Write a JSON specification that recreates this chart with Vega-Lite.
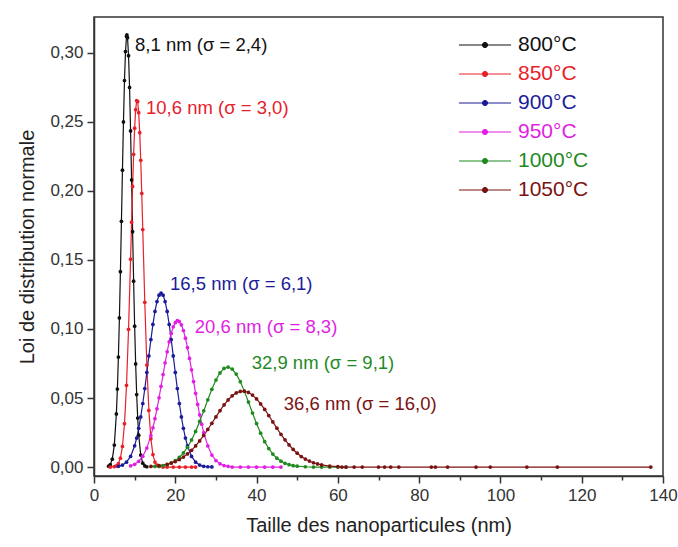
{
"$schema": "https://vega.github.io/schema/vega-lite/v6.json",
"width": 569, "height": 459,
"autosize": {"type": "none"},
"padding": {"left": 94, "top": 17, "right": 15, "bottom": 71},
"background": "white",
"config": {"view": {"stroke": "#333333", "strokeWidth": 1.5}, "font": "Liberation Sans"},
"datasets": {
"curves": [
{"T":"800°C","x":3.6,"y":0.0006},{"T":"800°C","x":4.0,"y":0.0017},{"T":"800°C","x":4.5,"y":0.0057},{"T":"800°C","x":5.0,"y":0.0159},{"T":"800°C","x":5.5,"y":0.0385},{"T":"800°C","x":5.75,"y":0.0565},{"T":"800°C","x":6.0,"y":0.0797},{"T":"800°C","x":6.25,"y":0.108},{"T":"800°C","x":6.5,"y":0.1415},{"T":"800°C","x":6.75,"y":0.178},{"T":"800°C","x":7.0,"y":0.215},{"T":"800°C","x":7.25,"y":0.25},{"T":"800°C","x":7.5,"y":0.28},{"T":"800°C","x":7.75,"y":0.301},{"T":"800°C","x":8.0,"y":0.312},{"T":"800°C","x":8.1,"y":0.313},{"T":"800°C","x":8.25,"y":0.311},{"T":"800°C","x":8.5,"y":0.298},{"T":"800°C","x":8.75,"y":0.275},{"T":"800°C","x":9.0,"y":0.2435},{"T":"800°C","x":9.25,"y":0.208},{"T":"800°C","x":9.5,"y":0.1705},{"T":"800°C","x":9.75,"y":0.1346},{"T":"800°C","x":10.0,"y":0.102},{"T":"800°C","x":10.25,"y":0.0747},{"T":"800°C","x":10.5,"y":0.0525},{"T":"800°C","x":10.75,"y":0.0355},{"T":"800°C","x":11.0,"y":0.0231},{"T":"800°C","x":11.5,"y":0.0087},{"T":"800°C","x":12.0,"y":0.0028},{"T":"800°C","x":12.5,"y":0.0008},{"T":"800°C","x":13.0,"y":0.0002},
{"T":"850°C","x":4.0,"y":0.0},{"T":"850°C","x":5.0,"y":0.0003},{"T":"850°C","x":5.5,"y":0.0008},{"T":"850°C","x":6.0,"y":0.0024},{"T":"850°C","x":6.5,"y":0.0064},{"T":"850°C","x":7.0,"y":0.0149},{"T":"850°C","x":7.5,"y":0.0314},{"T":"850°C","x":8.0,"y":0.0592},{"T":"850°C","x":8.5,"y":0.0998},{"T":"850°C","x":9.0,"y":0.1506},{"T":"850°C","x":9.25,"y":0.1774},{"T":"850°C","x":9.5,"y":0.2033},{"T":"850°C","x":9.75,"y":0.2265},{"T":"850°C","x":10.0,"y":0.2455},{"T":"850°C","x":10.25,"y":0.2589},{"T":"850°C","x":10.5,"y":0.2654},{"T":"850°C","x":10.75,"y":0.2647},{"T":"850°C","x":11.0,"y":0.2567},{"T":"850°C","x":11.25,"y":0.2422},{"T":"850°C","x":11.5,"y":0.2222},{"T":"850°C","x":11.75,"y":0.1982},{"T":"850°C","x":12.0,"y":0.172},{"T":"850°C","x":12.5,"y":0.1193},{"T":"850°C","x":13.0,"y":0.0739},{"T":"850°C","x":13.5,"y":0.041},{"T":"850°C","x":14.0,"y":0.0204},{"T":"850°C","x":14.5,"y":0.009},{"T":"850°C","x":15.0,"y":0.0036},{"T":"850°C","x":15.5,"y":0.0013},{"T":"850°C","x":16.0,"y":0.0004},{"T":"850°C","x":17.0,"y":0.0},{"T":"850°C","x":18.0,"y":0.0},{"T":"850°C","x":19.5,"y":0.0},{"T":"850°C","x":21.0,"y":0.0},{"T":"850°C","x":22.5,"y":0.0},{"T":"850°C","x":24.0,"y":0.0},{"T":"850°C","x":25.0,"y":0.0},
{"T":"900°C","x":6.0,"y":0.0005},{"T":"900°C","x":7.0,"y":0.0014},{"T":"900°C","x":8.0,"y":0.0035},{"T":"900°C","x":9.0,"y":0.0077},{"T":"900°C","x":10.0,"y":0.0154},{"T":"900°C","x":10.5,"y":0.021},{"T":"900°C","x":11.0,"y":0.028},{"T":"900°C","x":11.5,"y":0.0363},{"T":"900°C","x":12.0,"y":0.046},{"T":"900°C","x":12.5,"y":0.0568},{"T":"900°C","x":13.0,"y":0.0685},{"T":"900°C","x":13.5,"y":0.0805},{"T":"900°C","x":14.0,"y":0.0923},{"T":"900°C","x":14.5,"y":0.1033},{"T":"900°C","x":15.0,"y":0.1127},{"T":"900°C","x":15.5,"y":0.1199},{"T":"900°C","x":16.0,"y":0.1245},{"T":"900°C","x":16.5,"y":0.126},{"T":"900°C","x":17.0,"y":0.1245},{"T":"900°C","x":17.5,"y":0.1199},{"T":"900°C","x":18.0,"y":0.1127},{"T":"900°C","x":18.5,"y":0.1033},{"T":"900°C","x":19.0,"y":0.0923},{"T":"900°C","x":19.5,"y":0.0805},{"T":"900°C","x":20.0,"y":0.0685},{"T":"900°C","x":20.5,"y":0.0568},{"T":"900°C","x":21.0,"y":0.046},{"T":"900°C","x":21.5,"y":0.0363},{"T":"900°C","x":22.0,"y":0.028},{"T":"900°C","x":22.5,"y":0.021},{"T":"900°C","x":23.0,"y":0.0154},{"T":"900°C","x":24.0,"y":0.0077},{"T":"900°C","x":25.0,"y":0.0035},{"T":"900°C","x":26.0,"y":0.0014},{"T":"900°C","x":27.0,"y":0.0005},{"T":"900°C","x":28.0,"y":0.0002},{"T":"900°C","x":29.0,"y":0.0001},
{"T":"950°C","x":9.0,"y":0.0009},{"T":"950°C","x":10.0,"y":0.002},{"T":"950°C","x":11.0,"y":0.0041},{"T":"950°C","x":12.0,"y":0.0078},{"T":"950°C","x":13.0,"y":0.0137},{"T":"950°C","x":14.0,"y":0.0227},{"T":"950°C","x":14.5,"y":0.0284},{"T":"950°C","x":15.0,"y":0.035},{"T":"950°C","x":15.5,"y":0.0422},{"T":"950°C","x":16.0,"y":0.0501},{"T":"950°C","x":16.5,"y":0.0585},{"T":"950°C","x":17.0,"y":0.067},{"T":"950°C","x":17.5,"y":0.0755},{"T":"950°C","x":18.0,"y":0.0835},{"T":"950°C","x":18.5,"y":0.0907},{"T":"950°C","x":19.0,"y":0.0968},{"T":"950°C","x":19.5,"y":0.1016},{"T":"950°C","x":20.0,"y":0.1046},{"T":"950°C","x":20.5,"y":0.106},{"T":"950°C","x":21.0,"y":0.1054},{"T":"950°C","x":21.5,"y":0.103},{"T":"950°C","x":22.0,"y":0.0989},{"T":"950°C","x":22.5,"y":0.0933},{"T":"950°C","x":23.0,"y":0.0865},{"T":"950°C","x":23.5,"y":0.0787},{"T":"950°C","x":24.0,"y":0.0704},{"T":"950°C","x":24.5,"y":0.0619},{"T":"950°C","x":25.0,"y":0.0534},{"T":"950°C","x":25.5,"y":0.0453},{"T":"950°C","x":26.0,"y":0.0378},{"T":"950°C","x":26.5,"y":0.031},{"T":"950°C","x":27.0,"y":0.0249},{"T":"950°C","x":28.0,"y":0.0153},{"T":"950°C","x":29.0,"y":0.0087},{"T":"950°C","x":30.0,"y":0.0047},{"T":"950°C","x":31.0,"y":0.0023},{"T":"950°C","x":32.0,"y":0.0011},{"T":"950°C","x":33.0,"y":0.0005},{"T":"950°C","x":34.0,"y":0.0},{"T":"950°C","x":36.0,"y":0.0},{"T":"950°C","x":38.0,"y":0.0},{"T":"950°C","x":40.0,"y":0.0},{"T":"950°C","x":42.0,"y":0.0},{"T":"950°C","x":44.0,"y":0.0},{"T":"950°C","x":46.0,"y":0.0},
{"T":"1000°C","x":15.0,"y":0.0004},{"T":"1000°C","x":16.0,"y":0.0006},{"T":"1000°C","x":17.0,"y":0.0011},{"T":"1000°C","x":18.0,"y":0.0018},{"T":"1000°C","x":19.0,"y":0.003},{"T":"1000°C","x":20.0,"y":0.0046},{"T":"1000°C","x":21.0,"y":0.007},{"T":"1000°C","x":22.0,"y":0.0102},{"T":"1000°C","x":23.0,"y":0.0143},{"T":"1000°C","x":24.0,"y":0.0196},{"T":"1000°C","x":25.0,"y":0.0258},{"T":"1000°C","x":26.0,"y":0.033},{"T":"1000°C","x":27.0,"y":0.0407},{"T":"1000°C","x":28.0,"y":0.0487},{"T":"1000°C","x":29.0,"y":0.0563},{"T":"1000°C","x":30.0,"y":0.063},{"T":"1000°C","x":31.0,"y":0.0682},{"T":"1000°C","x":32.0,"y":0.0714},{"T":"1000°C","x":33.0,"y":0.0724},{"T":"1000°C","x":34.0,"y":0.071},{"T":"1000°C","x":35.0,"y":0.0673},{"T":"1000°C","x":36.0,"y":0.0618},{"T":"1000°C","x":37.0,"y":0.0548},{"T":"1000°C","x":38.0,"y":0.0471},{"T":"1000°C","x":39.0,"y":0.0391},{"T":"1000°C","x":40.0,"y":0.0315},{"T":"1000°C","x":41.0,"y":0.0245},{"T":"1000°C","x":42.0,"y":0.0184},{"T":"1000°C","x":43.0,"y":0.0134},{"T":"1000°C","x":44.0,"y":0.0094},{"T":"1000°C","x":45.0,"y":0.0064},{"T":"1000°C","x":46.0,"y":0.0042},{"T":"1000°C","x":47.0,"y":0.0027},{"T":"1000°C","x":48.0,"y":0.0017},{"T":"1000°C","x":49.0,"y":0.001},{"T":"1000°C","x":50.0,"y":0.0006},{"T":"1000°C","x":52.0,"y":0.0002},{"T":"1000°C","x":54.0,"y":0.0},{"T":"1000°C","x":56.0,"y":0.0},{"T":"1000°C","x":58.0,"y":0.0},{"T":"1000°C","x":60.0,"y":0.0},{"T":"1000°C","x":62.0,"y":0.0},
{"T":"1050°C","x":14.0,"y":0.0004},{"T":"1050°C","x":16.0,"y":0.001},{"T":"1050°C","x":18.0,"y":0.002},{"T":"1050°C","x":19.0,"y":0.0029},{"T":"1050°C","x":20.0,"y":0.004},{"T":"1050°C","x":21.0,"y":0.0054},{"T":"1050°C","x":22.0,"y":0.0072},{"T":"1050°C","x":23.0,"y":0.0095},{"T":"1050°C","x":24.0,"y":0.0121},{"T":"1050°C","x":25.0,"y":0.0153},{"T":"1050°C","x":26.0,"y":0.0189},{"T":"1050°C","x":27.0,"y":0.0229},{"T":"1050°C","x":28.0,"y":0.0272},{"T":"1050°C","x":29.0,"y":0.0317},{"T":"1050°C","x":30.0,"y":0.0363},{"T":"1050°C","x":31.0,"y":0.0408},{"T":"1050°C","x":32.0,"y":0.045},{"T":"1050°C","x":33.0,"y":0.0486},{"T":"1050°C","x":34.0,"y":0.0516},{"T":"1050°C","x":35.0,"y":0.0537},{"T":"1050°C","x":36.0,"y":0.0548},{"T":"1050°C","x":37.0,"y":0.0549},{"T":"1050°C","x":38.0,"y":0.054},{"T":"1050°C","x":39.0,"y":0.0521},{"T":"1050°C","x":40.0,"y":0.0493},{"T":"1050°C","x":41.0,"y":0.0457},{"T":"1050°C","x":42.0,"y":0.0417},{"T":"1050°C","x":43.0,"y":0.0373},{"T":"1050°C","x":44.0,"y":0.0327},{"T":"1050°C","x":45.0,"y":0.0281},{"T":"1050°C","x":46.0,"y":0.0237},{"T":"1050°C","x":47.0,"y":0.0197},{"T":"1050°C","x":48.0,"y":0.016},{"T":"1050°C","x":49.0,"y":0.0127},{"T":"1050°C","x":50.0,"y":0.01},{"T":"1050°C","x":51.0,"y":0.0076},{"T":"1050°C","x":52.0,"y":0.0058},{"T":"1050°C","x":53.0,"y":0.0043},{"T":"1050°C","x":54.0,"y":0.0031},{"T":"1050°C","x":55.0,"y":0.0022},{"T":"1050°C","x":56.0,"y":0.0015},{"T":"1050°C","x":58.0,"y":0.0007},{"T":"1050°C","x":60.0,"y":0.0003},{"T":"1050°C","x":61.0,"y":0.0},{"T":"1050°C","x":62.0,"y":0.0},{"T":"1050°C","x":64.0,"y":0.0},{"T":"1050°C","x":66.0,"y":0.0},{"T":"1050°C","x":70.0,"y":0.0},{"T":"1050°C","x":71.5,"y":0.0},{"T":"1050°C","x":73.0,"y":0.0},{"T":"1050°C","x":75.0,"y":0.0},{"T":"1050°C","x":83.0,"y":0.0},{"T":"1050°C","x":84.0,"y":0.0},{"T":"1050°C","x":87.0,"y":0.0},{"T":"1050°C","x":94.0,"y":0.0},{"T":"1050°C","x":97.5,"y":0.0},{"T":"1050°C","x":106.5,"y":0.0},{"T":"1050°C","x":114.0,"y":0.0},{"T":"1050°C","x":137.0,"y":0.0}
],
"notes": [
{"T":"800°C","x":10.1,"y":0.306,"label":"8,1 nm (σ = 2,4)"},
{"T":"850°C","x":12.8,"y":0.26,"label":"10,6 nm (σ = 3,0)"},
{"T":"900°C","x":18.7,"y":0.1325,"label":"16,5 nm (σ = 6,1)"},
{"T":"950°C","x":24.8,"y":0.1014,"label":"20,6 nm (σ = 8,3)"},
{"T":"1000°C","x":38.8,"y":0.0753,"label":"32,9 nm (σ = 9,1)"},
{"T":"1050°C","x":46.7,"y":0.0456,"label":"36,6 nm (σ = 16,0)"}
]
},
"layer": [
{
"data": {"name": "curves"},
"mark": {"type": "line", "strokeWidth": 1.2, "point": {"filled": true, "size": 14}},
"encoding": {
"x": {"field": "x", "type": "quantitative", "scale": {"domain": [0, 140], "nice": false},
"axis": {"values": [0,10,20,30,40,50,60,70,80,90,100,110,120,130,140], "title": "Taille des nanoparticules (nm)", "grid": false,
"labelExpr": "datum.value % 20 === 0 ? datum.label : ''",
"tickSize": {"condition": {"test": "datum.value % 20 !== 0", "value": 4}, "value": 7},
"domainColor": "#333", "domainWidth": 1.5, "tickColor": "#333", "tickWidth": 1.5,
"labelFontSize": 17, "labelColor": "#333", "labelPadding": 4, "labelFlush": false, "labelOverlap": false,
"titleFontSize": 20, "titleFontWeight": "normal", "titleColor": "#222", "titlePadding": 12}},
"y": {"field": "y", "type": "quantitative", "scale": {"domain": [-0.0065, 0.326], "nice": false, "zero": false},
"axis": {"values": [0,0.025,0.05,0.075,0.1,0.125,0.15,0.175,0.2,0.225,0.25,0.275,0.3], "title": "Loi de distribution normale", "grid": false,
"labelExpr": "round(datum.value*40) % 2 === 0 ? replace(format(datum.value, '.2f'), '.', ',') : ''",
"tickSize": {"condition": {"test": "round(datum.value*40) % 2 === 1", "value": 4}, "value": 7},
"domainColor": "#333", "domainWidth": 1.5, "tickColor": "#333", "tickWidth": 1.5,
"labelFontSize": 17, "labelColor": "#333", "labelPadding": 4, "labelOverlap": false,
"titleFontSize": 20, "titleFontWeight": "normal", "titleColor": "#222", "titlePadding": 12}},
"color": {"field": "T", "type": "nominal",
"scale": {"domain": ["800°C","850°C","900°C","950°C","1000°C","1050°C"], "range": ["#111111","#e8202a","#1c1c9a","#e21ee2","#1f8a1f","#7b1212"]},
"legend": {"title": null, "orient": "none", "legendX": 380, "legendY": 17,
"symbolType": "M-2.48,0H2.48M0.25,0A0.25,0.25,0,1,1,-0.25,0A0.25,0.25,0,1,1,0.25,0Z",
"symbolSize": 441, "symbolStrokeWidth": 1, "labelFontSize": 21, "labelOffset": 22, "rowPadding": 8,
"encode": {"labels": {"update": {"fill": {"scale": "color", "field": "value"}}},
"symbols": {"update": {"fill": {"scale": "color", "field": "value"}, "stroke": {"scale": "color", "field": "value"}, "opacity": {"value": 1}}}}}}
}
},
{
"data": {"name": "notes"},
"mark": {"type": "text", "align": "left", "baseline": "middle", "fontSize": 18.5},
"encoding": {
"x": {"field": "x", "type": "quantitative"},
"y": {"field": "y", "type": "quantitative"},
"text": {"field": "label"},
"color": {"field": "T", "type": "nominal"}
}
}
]
}
